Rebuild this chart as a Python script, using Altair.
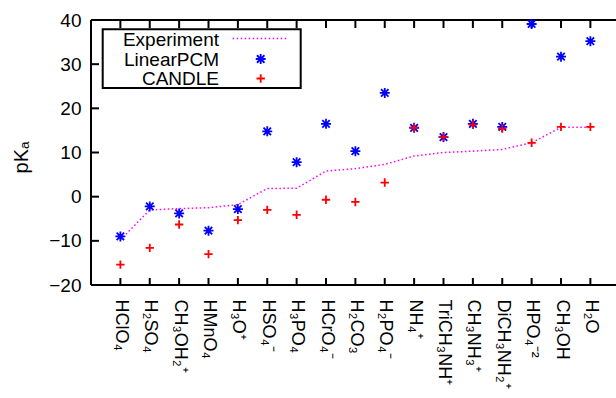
import altair as alt
import pandas as pd

# ---- data ----
names = ["HClO₄", "H₂SO₄", "CH₃OH₂⁺", "HMnO₄", "H₃O⁺", "HSO₄⁻", "H₃PO₄", "HCrO₄⁻",
         "H₂CO₃", "H₂PO₄⁻", "NH₄⁺", "TriCH₃NH⁺", "CH₃NH₃⁺", "DiCH₃NH₂⁺", "HPO₄⁻²",
         "CH₃OH", "H₂O"]
idx = list(range(1, 18))
experiment = [-9.8, -3.0, -2.7, -2.5, -1.8, 1.85, 1.9, 5.8, 6.35, 7.3, 9.2, 10.0,
              10.3, 10.7, 12.2, 15.7, 15.7]
linear_pcm = [-9.0, -2.2, -3.8, -7.7, -2.8, 14.8, 7.8, 16.5, 10.3, 23.5, 15.6, 13.5,
              16.5, 15.8, 39.1, 31.7, 35.2]
candle = [-15.4, -11.6, -6.3, -13.0, -5.3, -3.0, -4.1, -0.7, -1.2, 3.2, 15.6, 13.5,
          16.3, 15.4, 12.2, 15.8, 15.8]
y_ticks = [-20, -10, 0, 10, 20, 30, 40]
legend_labels = ["Experiment", "LinearPCM", "CANDLE"]

W, H = 525, 265
STEP = 29.375
FONT = "Liberation Sans"
FS = 18
FSH = 19
MAGENTA = "#ff00ff"
BLUE = "#0000ff"
RED = "#ff0000"
STAR = "M-1,0L1,0M0,-1L0,1M-0.75,-0.75L0.75,0.75M-0.75,0.75L0.75,-0.75"
PLUS = "M-1,0L1,0M0,-1L0,1"

df = pd.DataFrame({"idx": idx, "name": names, "exp": experiment,
                   "pcm": linear_pcm, "candle": candle})
ytick_df = pd.DataFrame({"v": y_ticks})
one = pd.DataFrame({"a": [0]})

label_expr = "[" + ",".join("'" + n + "'" for n in names) + "][datum.value - 1]"

xscale = alt.Scale(domain=[0, W / STEP], nice=False, zero=False)
yscale = alt.Scale(domain=[-20, 40], nice=False, zero=False)

xaxis = alt.Axis(values=idx, labelExpr=label_expr, labelAngle=90, labelAlign="left",
                 labelBaseline="middle", labelPadding=14, ticks=False, domain=False,
                 grid=False, title=None, labelFont=FONT, labelFontSize=FS,
                 labelColor="black", labelOverlap=False, labelFlush=False,
                 labelBound=False)
yaxis = alt.Axis(values=y_ticks, ticks=False, domain=False, grid=False, labelPadding=10,
                 labelFont=FONT, labelFontSize=FSH, labelColor="black",
                 title="pKₐ", titleFont=FONT, titleFontSize=20, titleFontWeight="normal",
                 titleColor="black", titleX=-70, titleY=137, titleAngle=270,
                 titleAlign="center", titleBaseline="middle")


def X(field="idx"):
    return alt.X(field + ":Q", scale=xscale, axis=xaxis)


def Y(field):
    return alt.Y(field + ":Q", scale=yscale, axis=yaxis)


line = alt.Chart(df).mark_line(color=MAGENTA, strokeWidth=1.5, strokeDash=[1.5, 2.5]).encode(
    x=X(), y=Y("exp"))

stars = alt.Chart(df).mark_point(shape=STAR, size=100, filled=False, color=BLUE,
                                 strokeWidth=1.8, opacity=1).encode(
    x=X(), y=Y("pcm"))

pluses = alt.Chart(df).mark_point(shape=PLUS, size=70, filled=False, color=RED,
                                  strokeWidth=1.8, opacity=1).encode(
    x=X(), y=Y("candle"))

# frame (left, top, bottom) and inward ticks
frame_left = alt.Chart(one).mark_rule(color="black", strokeWidth=2).encode(
    x=alt.value(0), y=alt.value(0), y2=alt.value(H))
frame_top = alt.Chart(one).mark_rule(color="black", strokeWidth=2).encode(
    x=alt.value(0), x2=alt.value(W), y=alt.value(0))
frame_bottom = alt.Chart(one).mark_rule(color="black", strokeWidth=2).encode(
    x=alt.value(0), x2=alt.value(W), y=alt.value(H))
ytk = alt.Chart(ytick_df).mark_rule(color="black", strokeWidth=2).encode(
    y=Y("v"), x=alt.value(0), x2=alt.value(8))
xtk_bottom = alt.Chart(df).mark_rule(color="black", strokeWidth=2).encode(
    x=X(), y=alt.value(H - 7), y2=alt.value(H))
xtk_top = alt.Chart(df).mark_rule(color="black", strokeWidth=2).encode(
    x=X(), y=alt.value(0), y2=alt.value(8))

# legend (gnuplot-style key)
lg_box = alt.Chart(one).mark_rect(fill="white", stroke="black", strokeWidth=2).encode(
    x=alt.value(11.7), x2=alt.value(209.7), y=alt.value(9.3), y2=alt.value(68))
lg_texts = []
for lab, yy in zip(legend_labels, [26, 45.5, 65]):
    lg_texts.append(alt.Chart(one).mark_text(align="right", baseline="alphabetic",
                                             font=FONT, fontSize=FSH, color="black").encode(
        x=alt.value(128), y=alt.value(yy), text=alt.value(lab)))
lg_line = alt.Chart(one).mark_rule(color=MAGENTA, strokeWidth=1.5, strokeDash=[1.5, 2.5]).encode(
    x=alt.value(141.7), x2=alt.value(195.7), y=alt.value(18.5))
lg_star = alt.Chart(one).mark_point(shape=STAR, size=100, filled=False, color=BLUE,
                                    strokeWidth=1.8, opacity=1).encode(
    x=alt.value(169.7), y=alt.value(39))
lg_plus = alt.Chart(one).mark_point(shape=PLUS, size=70, filled=False, color=RED,
                                    strokeWidth=1.8, opacity=1).encode(
    x=alt.value(169.7), y=alt.value(58.5))

chart = alt.layer(
    line, frame_left, frame_top, frame_bottom, ytk, xtk_bottom, xtk_top,
    stars, pluses, lg_box, *lg_texts, lg_line, lg_star, lg_plus
).properties(
    width=W, height=H,
    autosize=alt.AutoSizeParams(type="none"),
    padding={"left": 91, "top": 20, "right": 0, "bottom": 113},
    background="white",
).configure_view(stroke=None)

chart.save("out.html", embed_options={"renderer": "svg", "actions": False})
